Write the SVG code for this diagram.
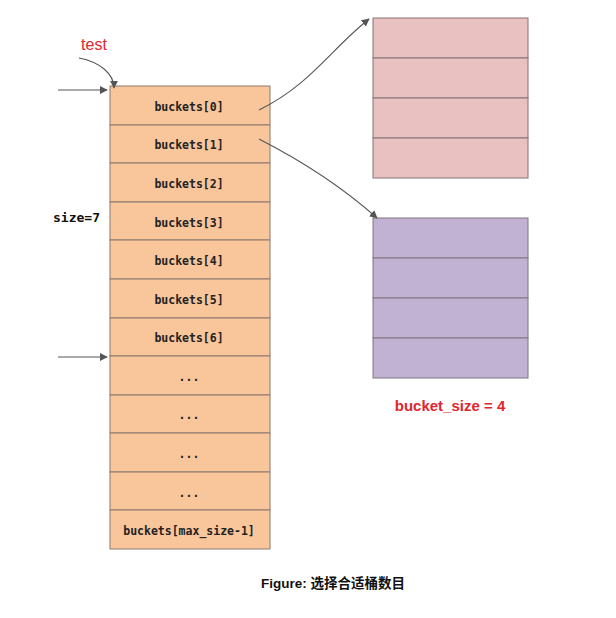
<svg xmlns="http://www.w3.org/2000/svg" width="616" height="618" viewBox="0 0 616 618">
<style>
.cell{fill:#F9C59B;stroke:#8C7B6E;stroke-width:1}
.red{fill:#E9C1C1;stroke:#857373;stroke-width:1}
.pur{fill:#C1B2D4;stroke:#7E7680;stroke-width:1}
.lbl{font-family:"DejaVu Sans Mono","Liberation Mono",monospace;font-size:11.5px;font-weight:bold;fill:#222;text-anchor:middle}
.conn{fill:none;stroke:#555;stroke-width:1.1}
</style>
<defs>
<marker id="ah" viewBox="0 0 10 10" refX="9" refY="5" markerWidth="8" markerHeight="8" orient="auto" markerUnits="userSpaceOnUse"><path d="M0,0 L10,5 L0,10 Z" fill="#555"/></marker>
</defs>
<rect width="616" height="618" fill="#fff"/>
<g id="buckets">
<rect class="cell" x="110" y="86" width="160" height="39"/>
<rect class="cell" x="110" y="125" width="160" height="38"/>
<rect class="cell" x="110" y="163" width="160" height="39"/>
<rect class="cell" x="110" y="202" width="160" height="38"/>
<rect class="cell" x="110" y="240" width="160" height="39"/>
<rect class="cell" x="110" y="279" width="160" height="39"/>
<rect class="cell" x="110" y="318" width="160" height="38"/>
<rect class="cell" x="110" y="356" width="160" height="39"/>
<rect class="cell" x="110" y="395" width="160" height="38"/>
<rect class="cell" x="110" y="433" width="160" height="39"/>
<rect class="cell" x="110" y="472" width="160" height="38"/>
<rect class="cell" x="110" y="510" width="160" height="39"/>
<text class="lbl" x="189" y="111">buckets[0]</text>
<text class="lbl" x="189" y="149">buckets[1]</text>
<text class="lbl" x="189" y="188">buckets[2]</text>
<text class="lbl" x="189" y="227">buckets[3]</text>
<text class="lbl" x="189" y="265">buckets[4]</text>
<text class="lbl" x="189" y="304">buckets[5]</text>
<text class="lbl" x="189" y="342">buckets[6]</text>
<text class="lbl" x="189" y="381">...</text>
<text class="lbl" x="189" y="419">...</text>
<text class="lbl" x="189" y="458">...</text>
<text class="lbl" x="189" y="497">...</text>
<text class="lbl" x="189" y="535">buckets[max_size-1]</text>
</g>
<g id="bucket0">
<rect class="red" x="373" y="18" width="155" height="40"/>
<rect class="red" x="373" y="58" width="155" height="40"/>
<rect class="red" x="373" y="98" width="155" height="40"/>
<rect class="red" x="373" y="138" width="155" height="40"/>
</g>
<g id="bucket1">
<rect class="pur" x="373" y="218" width="155" height="40"/>
<rect class="pur" x="373" y="258" width="155" height="40"/>
<rect class="pur" x="373" y="298" width="155" height="40"/>
<rect class="pur" x="373" y="338" width="155" height="40"/>
</g>
<g id="labels">
<text x="94" y="50" font-family="'Liberation Sans',Arial,sans-serif" font-size="16" fill="#E0262E" text-anchor="middle">test</text>
<text x="53" y="222" font-family="'DejaVu Sans Mono','Liberation Mono',monospace" font-size="13" font-weight="bold" fill="#111">size=7</text>
<text x="450" y="411" font-family="'Liberation Sans',Arial,sans-serif" font-size="15" font-weight="bold" fill="#E0262E" text-anchor="middle">bucket_size = 4</text>
<text x="333" y="588" font-family="'Liberation Sans',Arial,'Noto Sans CJK SC',sans-serif" font-size="13.5" font-weight="bold" fill="#111" text-anchor="middle">Figure: 选择合适桶数目</text>
</g>
<g id="connectors">
<path class="conn" d="M58,90 L107,90" marker-end="url(#ah)"/>
<path class="conn" d="M58,357 L107,357" marker-end="url(#ah)"/>
<path class="conn" d="M79,58 C100,62 114,74 114,88" marker-end="url(#ah)"/>
<path class="conn" d="M259,110 C310,85 330,50 369,19" marker-end="url(#ah)"/>
<path class="conn" d="M259,139 C300,160 340,185 377,218" marker-end="url(#ah)"/>
</g>
</svg>
